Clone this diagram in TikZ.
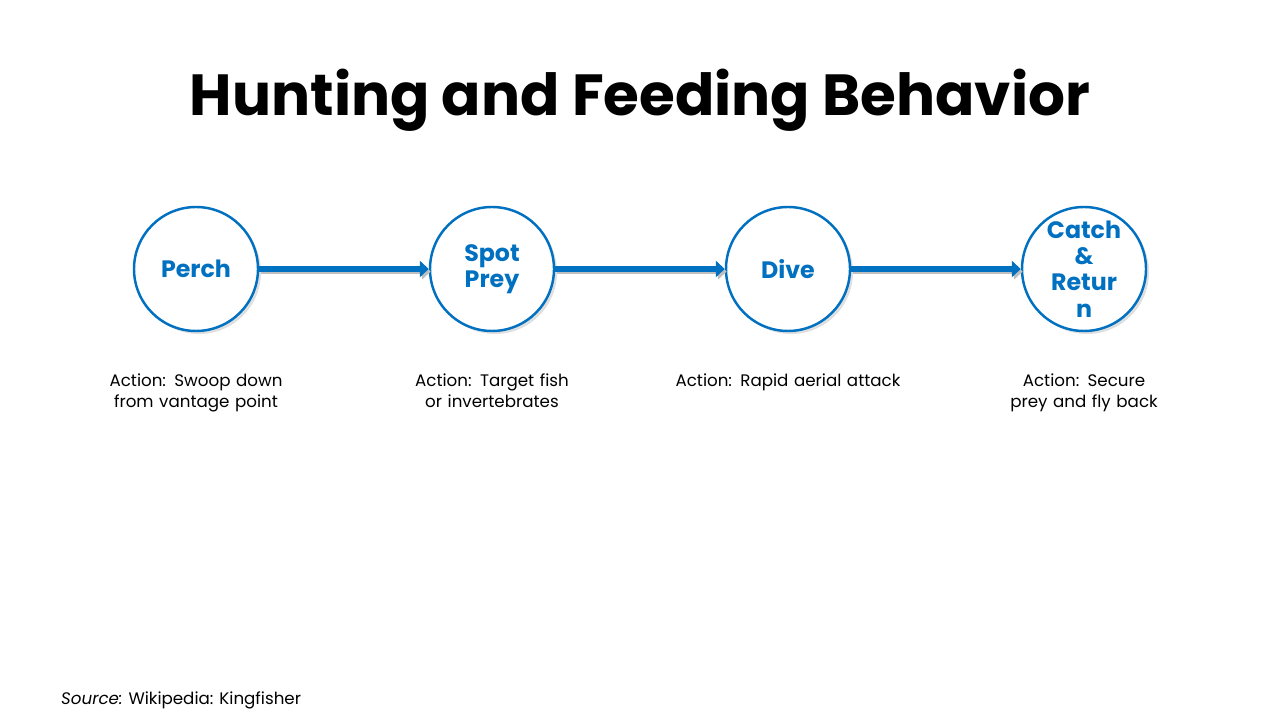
\documentclass[tikz,border=0pt]{standalone}
\usepackage{fontspec}
\setmainfont{Poppins}
\usetikzlibrary{arrows.meta,shadows,positioning}
\definecolor{stepblue}{HTML}{0070C0}
\tikzset{
  stage/.style={circle,draw=stepblue,line width=1.4pt,fill=white,minimum size=2.48cm,
    inner sep=0pt,align=center,text=stepblue,font=\fontsize{13.5}{15}\selectfont\bfseries,
    drop shadow={shadow xshift=0.06cm,shadow yshift=-0.06cm,opacity=0.25}},
  flow/.style={draw=stepblue,line width=3.4pt,-{Triangle[length=5pt,width=9pt]},
    preaction={draw=black!25,line width=3.4pt,transform canvas={xshift=0.04cm,yshift=-0.05cm}}},
  action/.style={align=center,text width=4.8cm,font=\fontsize{9.5}{12}\selectfont}
}
\begin{document}
\begin{tikzpicture}
\useasboundingbox (0,0) rectangle (25.6,14.4);
\node[font=\fontsize{33}{36}\selectfont\bfseries] (title) at (12.8,12.4) {Hunting and Feeding Behavior};
\node[stage] (perch) at (3.92,9.02) {Perch};
\node[stage] (spot) at (9.84,9.02) {Spot\\Prey};
\node[stage] (dive) at (15.76,9.02) {Dive};
\node[stage] (catch) at (21.68,9.02) {Catch\\\&\\Retur\\n};
\draw[flow] (perch) -- (spot);
\draw[flow] (spot) -- (dive);
\draw[flow] (dive) -- (catch);
\node[action,anchor=north] (aperch) at (3.92,7.05) {Action: Swoop down from vantage point};
\node[action,anchor=north] (aspot) at (9.84,7.05) {Action: Target fish or invertebrates};
\node[action,anchor=north] (adive) at (15.76,7.05) {Action: Rapid aerial attack};
\node[action,anchor=north] (acatch) at (21.68,7.05) {Action: Secure prey and fly back};
\node[anchor=west,font=\fontsize{9.5}{12}\selectfont] (src) at (1.1,0.4) {\textit{Source:} Wikipedia: Kingfisher};
\end{tikzpicture}
\end{document}
